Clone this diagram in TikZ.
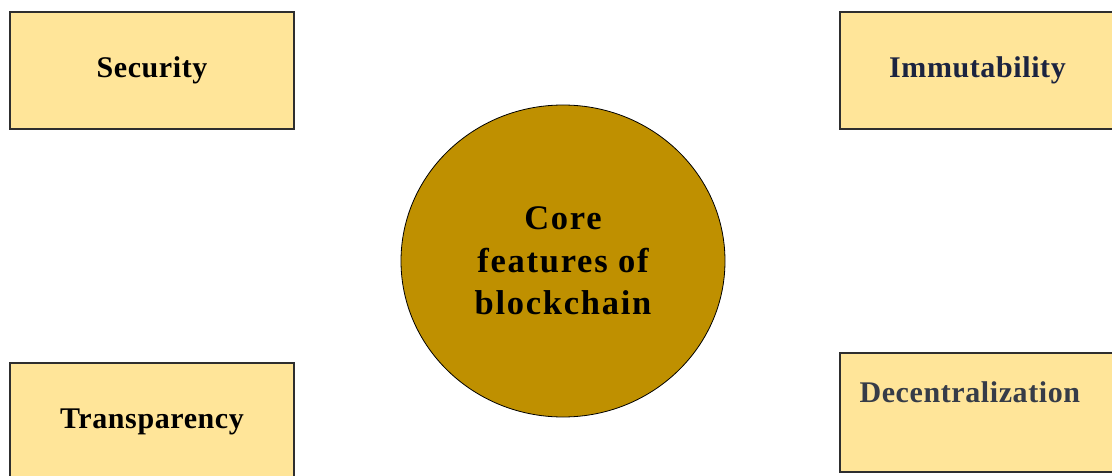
\documentclass[tikz,border=0pt]{standalone}
\usepackage{fontspec}
\setmainfont{Liberation Serif}
\newfontfamily\featfont{Liberation Serif}[LetterSpace=2]
\newfontfamily\corefont{Liberation Serif}[LetterSpace=5]
\usetikzlibrary{shapes.geometric}
\definecolor{boxfill}{HTML}{FFE599}
\definecolor{corefill}{HTML}{BF9000}
\definecolor{boxline}{HTML}{2E2E2E}
\definecolor{navytext}{HTML}{1C2440}
\definecolor{slatetext}{HTML}{363C48}

\begin{document}
\begin{tikzpicture}[x=1pt,y=-1pt]
\tikzstyle{feature}=[rectangle, draw=boxline, line width=1.3pt, fill=boxfill, minimum width=284pt, minimum height=117pt, font=\featfont\bfseries\fontsize{30}{35}\selectfont]
\tikzstyle{core}=[ellipse, draw=black, line width=0.8pt, fill=corefill, minimum width=324pt, minimum height=312pt, inner sep=0pt, align=center, font=\corefont\bfseries\fontsize{34.5}{42.5}\selectfont]
  \useasboundingbox (0,0) rectangle (1112,476);
  \clip (0,0) rectangle (1112,476);
  % centre circle
  \node[core] (core) at (563,261) {Core\\features of\\blockchain};
  % the four features
  \node[feature] (security) at (152,70.5) {Security};
  \node[feature, text=navytext] (immut) at (982,70.5) {\hspace*{-9pt}Immutability};
  \node[feature] (transp) at (152,421.5) {Transparency};
  \node[feature, minimum height=119pt] (decentr) at (982,412.5)
    [label={[anchor=base west, inner sep=0pt, xshift=20pt, yshift=-50pt, text=slatetext, font=\featfont\bfseries\fontsize{30}{35}\selectfont]north west:Decentralization}] {};
\end{tikzpicture}
\end{document}
